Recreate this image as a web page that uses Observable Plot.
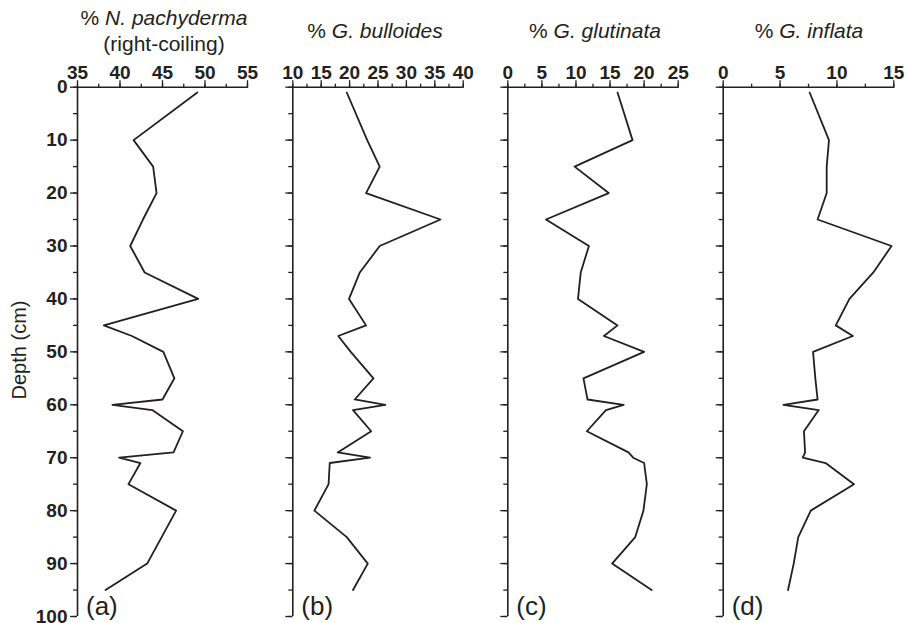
<!DOCTYPE html>
<html>
<head>
<meta charset="utf-8">
<script src="https://cdn.jsdelivr.net/npm/d3@7"></script>
<script src="https://cdn.jsdelivr.net/npm/@observablehq/plot@0.6"></script>
<style>
  html, body { margin: 0; padding: 0; background: #fff; }
  body { width: 907px; height: 623px; position: relative; overflow: hidden; color: #231f20;
         font-family: "Liberation Sans", Arial, Helvetica, sans-serif; }
  .panel { position: absolute; top: 0; }
  .title { position: absolute; font-size: 21px; white-space: nowrap; transform: translate(-50%, -50%); line-height: 1; }
  .letter { position: absolute; font-size: 26px; line-height: 1; }
  .ylab { position: absolute; font-size: 20px; white-space: nowrap; transform: translate(-50%, -50%) rotate(-90deg); }
</style>
</head>
<body>
<div id="chart"></div>
<script>
// Depth of samples (cm)
const depth = [1, 10, 15, 20, 25, 30, 35, 40, 45, 47, 50, 55, 59, 60, 61, 65, 69, 70, 71, 75, 80, 85, 90, 95];
// % N. pachyderma (right-coiling)
const nPachyderma = [49.1, 41.6, 43.9, 44.3, 42.7, 41.2, 42.9, 49.2, 38.1, 41.4, 45.1, 46.4, 45.0, 39.1, 43.8, 47.4, 46.3, 39.9, 42.4, 41.0, 46.6, 44.9, 43.2, 38.3];
// % G. bulloides
const gBulloides = [19.5, 23.1, 25.3, 22.9, 36.0, 25.3, 21.8, 19.9, 22.9, 18.0, 20.2, 24.2, 20.9, 26.3, 20.6, 23.8, 17.9, 23.6, 16.5, 16.3, 13.8, 19.5, 23.2, 20.6];
// % G. glutinata
const gGlutinata = [16.1, 18.3, 9.8, 14.8, 5.6, 11.9, 10.7, 10.3, 16.1, 14.1, 20.0, 11.1, 11.7, 17.0, 14.4, 11.6, 17.7, 18.4, 20.0, 20.4, 19.9, 18.7, 15.3, 21.1];
// % G. inflata
const gInflata = [7.6, 9.3, 9.1, 9.1, 8.3, 14.8, 13.2, 11.1, 9.9, 11.4, 7.9, 8.1, 8.3, 5.3, 8.4, 7.1, 7.2, 7.0, 9.0, 11.5, 7.7, 6.6, 6.2, 5.7];

// Axis tick values
const ticksA = [35, 40, 45, 50, 55];
const minorA = [35, 37.5, 40, 42.5, 45, 47.5, 50, 52.5, 55];
const ticksB = [10, 15, 20, 25, 30, 35, 40];
const minorB = [10, 12.5, 15, 17.5, 20, 22.5, 25, 27.5, 30, 32.5, 35, 37.5, 40];
const ticksC = [0, 5, 10, 15, 20, 25];
const minorC = [0, 2.5, 5, 7.5, 10, 12.5, 15, 17.5, 20, 22.5, 25];
const ticksD = [0, 5, 10, 15];
const minorD = [0, 2.5, 5, 7.5, 10, 12.5, 15];
const depthTicks = [0, 10, 20, 30, 40, 50, 60, 70, 80, 90, 100];
const depthMinor = [0, 5, 10, 15, 20, 25, 30, 35, 40, 45, 50, 55, 60, 65, 70, 75, 80, 85, 90, 95, 100];

const titles = [
  {html: "% <i>N. pachyderma</i>", x: 164, y: 17},
  {html: "(right-coiling)", x: 164, y: 43},
  {html: "% <i>G. bulloides</i>", x: 375, y: 30},
  {html: "% <i>G. glutinata</i>", x: 595, y: 30},
  {html: "% <i>G. inflata</i>", x: 809, y: 30}
];
const letters = ["(a)", "(b)", "(c)", "(d)"];

const INK = "#231f20";
const panels = [
  {left: 0,   width: 270, marginLeft: 77,   marginRight: 23,  domain: [35, 55], values: nPachyderma, ticks: ticksA, minor: minorA, yLabels: true},
  {left: 270, width: 215, marginLeft: 22.3, marginRight: 22.3, domain: [10, 40], values: gBulloides, ticks: ticksB, minor: minorB, yLabels: false},
  {left: 485, width: 215, marginLeft: 22.3, marginRight: 22.3, domain: [0, 25], values: gGlutinata, ticks: ticksC, minor: minorC, yLabels: false},
  {left: 700, width: 207, marginLeft: 22.7, marginRight: 13.7, domain: [0, 15], values: gInflata, ticks: ticksD, minor: minorD, yLabels: false}
];

const root = document.getElementById("chart");

panels.forEach((p, k) => {
  const rows = depth.map((d, i) => ({depth: d, value: p.values[i]}));
  const svg = Plot.plot({
    width: p.width,
    height: 623,
    marginTop: 86.7,
    marginBottom: 7,
    marginLeft: p.marginLeft,
    marginRight: p.marginRight,
    style: {background: "transparent", overflow: "visible", fontFamily: "'Liberation Sans', Arial, sans-serif",
            fontSize: "19px", fontWeight: "bold", color: INK},
    x: {domain: p.domain, axis: null},
    y: {domain: [0, 100], reverse: true, axis: null},
    marks: [
      Plot.axisX(p.minor, {anchor: "top", tickSize: 4, tickFormat: () => "", label: null, strokeWidth: 1.3}),
      Plot.axisX(p.ticks, {anchor: "top", tickSize: 7.5, tickPadding: 1, label: null, fontSize: 19, fontWeight: "bold", strokeWidth: 1.3}),
      Plot.axisY(depthMinor, {anchor: "left", tickSize: 4, tickFormat: () => "", label: null, strokeWidth: 1.3}),
      Plot.axisY(depthTicks, {anchor: "left", tickSize: 7, tickPadding: 3, label: null, fontSize: 19, fontWeight: "bold", strokeWidth: 1.3,
        tickFormat: p.yLabels ? (d => String(d)) : (() => "")}),
      Plot.ruleY([0], {stroke: INK, strokeWidth: 1.6}),
      Plot.ruleX([p.domain[0]], {stroke: INK, strokeWidth: 1.6}),
      Plot.line(rows, {x: "value", y: "depth", stroke: INK, strokeWidth: 1.8})
    ]
  });
  const wrap = document.createElement("div");
  wrap.className = "panel";
  wrap.style.left = p.left + "px";
  wrap.appendChild(svg);
  root.appendChild(wrap);

  const lt = document.createElement("div");
  lt.className = "letter";
  lt.textContent = letters[k];
  lt.style.left = (p.left + p.marginLeft + 9) + "px";
  lt.style.top = "593px";
  root.appendChild(lt);
});

titles.forEach(t => {
  const el = document.createElement("div");
  el.className = "title";
  el.innerHTML = t.html;
  el.style.left = t.x + "px";
  el.style.top = t.y + "px";
  root.appendChild(el);
});

const yl = document.createElement("div");
yl.className = "ylab";
yl.textContent = "Depth (cm)";
yl.style.left = "19px";
yl.style.top = "350px";
root.appendChild(yl);
</script>
</body>
</html>
